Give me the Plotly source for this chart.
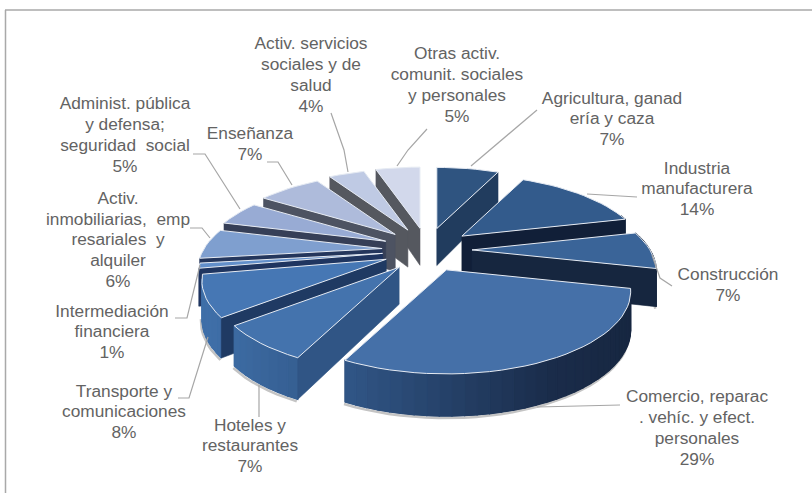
import math
import plotly.graph_objects as go

# ---- data ----
labels = [
    "Agricultura, ganad<br>ería y caza", "Industria<br>manufacturera", "Construcción",
    "Comercio, reparac<br>. vehíc. y efect.<br>personales", "Hoteles y<br>restaurantes",
    "Transporte y<br>comunicaciones", "Intermediación<br>financiera",
    "Activ.<br>inmobiliarias,  emp<br>resariales  y<br>alquiler",
    "Administ. pública<br>y defensa;<br>seguridad  social", "Enseñanza",
    "Activ. servicios<br>sociales y de<br>salud", "Otras activ.<br>comunit. sociales<br>y personales",
]
values = [7.0, 14.3, 7.4, 28.6, 6.9, 8.0, 1.0, 6.0, 5.0, 7.0, 4.0, 5.0]

# ---- styling ----
top_colors = ["#2f5480", "#335b8c", "#3a6498", "#4570a8", "#4473ad", "#4677b4",
              "#628fca", "#7f9fcf", "#98abd4", "#aebbdb", "#bfcae4", "#d2d8eb"]
wall_colors = ["#213c5e", "#111f38", "#16263f", "#16263f", "#305585", "#1f3a63",
               "#1f3560", "#24365c", "#363f57", "#4d5362", "#55585f", "#55585f"]
label_pos = [(612, 120), (697, 190), (728, 286), (697, 429), (250, 447), (124, 413),
             (112, 333), (118, 241), (125, 136), (250, 145), (311, 76), (457, 86)]
leaders = [
    [(471, 166), (537, 110)], [(587, 194), (637, 197)],
    [(652, 255), (660, 278), (672, 286)], [(537, 407), (620, 405)],
    [(259, 385), (259, 417)], [(208, 337), (189, 398), (178, 398)],
    [(200, 265), (187, 318), (175, 318)], [(210, 238), (202, 228), (190, 228)],
    [(240, 209), (205, 154), (193, 154)], [(292, 185), (278, 162), (267, 162)],
    [(348, 172), (344, 150), (331, 113)], [(397, 166), (408, 150), (427, 129)],
]
CX, CY = 427, 250      # pie centre
EX, EY = 45, 22        # explosion
RX, RY = 178, 77       # radii
PERSP = 0.26
DEPTH = 37
LINE_H = 20.8
FONT_SIZE = 17.3
TEXT = "#636363"
LEADER = "#a6a6a6"
FRAME = "#a9a9a9"
GRAD = [(210, (0x3f, 0x6f, 0xa8)), (350, (0x30, 0x55, 0x85)),
        (550, (0x1a, 0x2c, 0x4a)), (650, (0x16, 0x26, 0x3f))]


def grad(x):
    if x <= GRAD[0][0]:
        c = GRAD[0][1]
    elif x >= GRAD[-1][0]:
        c = GRAD[-1][1]
    else:
        for (a, ca), (b, cb) in zip(GRAD, GRAD[1:]):
            if a <= x <= b:
                t = (x - a) / (b - a)
                c = tuple(ca[k] + (cb[k] - ca[k]) * t for k in range(3))
                break
    return "rgb(%d,%d,%d)" % tuple(round(v) for v in c)


total = sum(values)
spans, acc = [], 0.0
for v in values:
    a = acc / total * 2 * math.pi
    acc += v
    spans.append((a, acc / total * 2 * math.pi))


def top_pt(i, r, th):
    mid = sum(spans[i]) / 2
    ax, ay = CX + EX * math.sin(mid), CY - EY * math.cos(mid)
    p = 1 / (1 + PERSP * r * math.cos(th))
    return ax + RX * r * math.sin(th) * p, ay - RY * r * math.cos(th) * p


def low_pt(i, r, th):
    x, y = top_pt(i, r, th)
    return x, y + DEPTH * (1 - 0.14 * r * math.cos(th))


def rim_visible(th):
    return math.cos(th) < (0.3 if math.sin(th) > 0 else -0.19)


fig = go.Figure()


def poly(pts, fill, line=None, width=0.6):
    fig.add_trace(go.Scatter(
        x=[p[0] for p in pts] + [pts[0][0]], y=[p[1] for p in pts] + [pts[0][1]],
        mode="lines", fill="toself", fillcolor=fill,
        line=dict(color=line or fill, width=width), hoverinfo="skip", showlegend=False))


for i in sorted(range(len(values)), key=lambda k: -math.cos(sum(spans[k]) / 2)):
    a, b = spans[i]
    mid = (a + b) / 2
    n = max(2, int((b - a) / math.radians(3)))
    ths = [a + (b - a) * k / n for k in range(n + 1)]

    front = [t for t in ths if rim_visible(t)]
    if len(front) > 1:
        # soft shadow under the rim
        fig.add_trace(go.Scatter(
            x=[low_pt(i, 1, t)[0] - 1 for t in front], y=[low_pt(i, 1, t)[1] + 2 for t in front],
            mode="lines", line=dict(color="#c4c4c4", width=2.5), hoverinfo="skip", showlegend=False))
        # continuous base under the gradient strips, hides the seams
        base = [top_pt(i, 1, t) for t in front] + [low_pt(i, 1, t) for t in reversed(front)]
        poly(base, grad(sum(p[0] for p in base) / len(base)))
    # outer rim, shaded left to right
    for t0, t1 in zip(ths, ths[1:]):
        if rim_visible(t0) and rim_visible(t1):
            q = [top_pt(i, 1, t0), top_pt(i, 1, t1), low_pt(i, 1, t1), low_pt(i, 1, t0)]
            poly(q, grad((q[0][0] + q[1][0]) / 2), width=1.2)
    # radial cut faces that turn towards the viewer
    apex = top_pt(i, 0, 0)
    inner = top_pt(i, 0.5, mid)
    for t in (a, b):
        rim = top_pt(i, 1, t)
        ex, ey = rim[0] - apex[0], rim[1] - apex[1]
        if ex * (ex * (inner[1] - apex[1]) - ey * (inner[0] - apex[0])) < 0:
            poly([apex, rim, low_pt(i, 1, t), low_pt(i, 0, t)], wall_colors[i])
    # top face
    poly([apex] + [top_pt(i, 1, t) for t in ths], top_colors[i], "#e6ebf3", 1)

# leader lines
for pts in leaders:
    fig.add_trace(go.Scatter(x=[p[0] for p in pts], y=[p[1] for p in pts], mode="lines",
                             line=dict(color=LEADER, width=1.2), hoverinfo="skip", showlegend=False))

# labels, one text item per line so the line pitch can follow the original
tx, ty, tt = [], [], []
for l, v, (x, y) in zip(labels, values, label_pos):
    rows = l.split("<br>") + ["%d%%" % round(v)]
    for k, row in enumerate(rows):
        tx.append(x)
        ty.append(y + (k - (len(rows) - 1) / 2) * LINE_H)
        tt.append(row)
fig.add_trace(go.Scatter(
    x=tx, y=ty, mode="text", text=tt, textposition="middle center",
    textfont=dict(family="Liberation Sans", size=FONT_SIZE, color=TEXT),
    hoverinfo="skip", showlegend=False))

fig.update_layout(
    width=812, height=493, margin=dict(l=0, r=0, t=0, b=0), autosize=False,
    paper_bgcolor="white", plot_bgcolor="white", showlegend=False,
    xaxis=dict(range=[0, 812], visible=False, fixedrange=True),
    yaxis=dict(range=[493, 0], visible=False, fixedrange=True),
    shapes=[
        dict(type="line", x0=5.5, x1=5.5, y0=10, y1=493, line=dict(color=FRAME, width=1.5)),
        dict(type="line", x0=5, x1=812, y0=10, y1=10, line=dict(color=FRAME, width=1.5)),
    ],
)
fig.write_html("out.html", config={"displayModeBar": False},
               post_script="document.body.style.margin='0';document.body.style.overflow='hidden';")
